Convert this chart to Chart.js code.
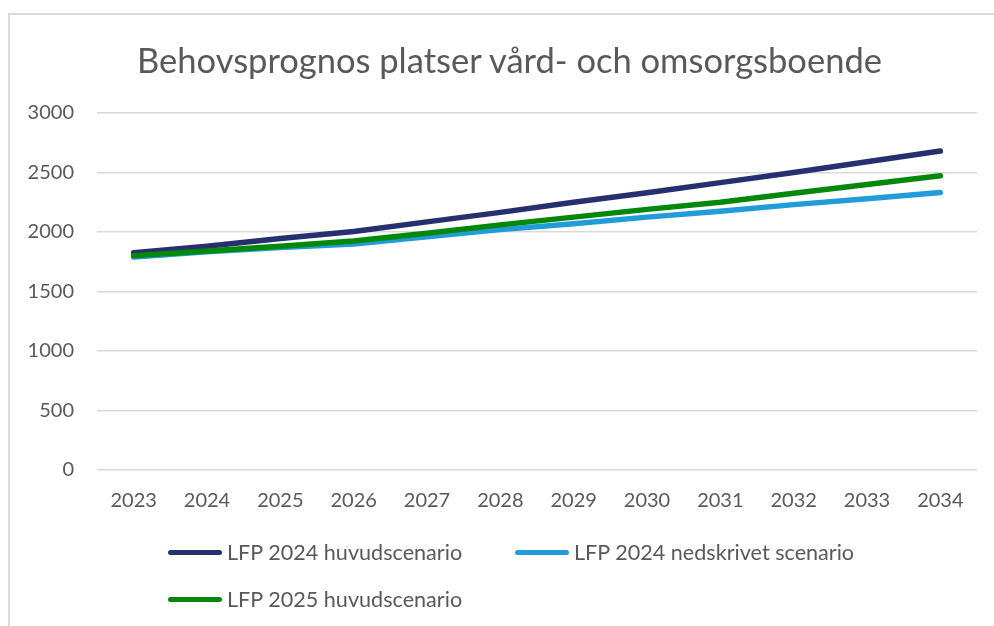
<!DOCTYPE html>
<html>
<head>
<meta charset="utf-8">
<script src="https://cdn.jsdelivr.net/npm/chart.js@4.4.1/dist/chart.umd.min.js"></script>
<style>
  html, body { margin: 0; padding: 0; background: #fff; overflow: hidden; }
  #wrap { position: relative; width: 994px; height: 626px; overflow: hidden; }
  #frame { position: absolute; left: 8px; top: 13px; width: 1100px; height: 800px; border: 2px solid #d9d9d9; box-sizing: border-box; }
  #c { position: absolute; left: 0; top: 0; }
  #title { position: absolute; left: 0; width: 1019px; top: 40px; height: 40px; line-height: 40px; text-align: center;
           font-family: Lato, "Open Sans", sans-serif; font-size: 34.5px; color: #595959; white-space: nowrap; }
  .leg { position: absolute; font-family: Lato, "Open Sans", sans-serif; font-size: 21.6px; color: #595959; white-space: nowrap; line-height: 24px; }
  .sw { position: absolute; height: 5px; border-radius: 3px; }
</style>
</head>
<body>
<div id="wrap">
  <div id="frame"></div>
  <canvas id="c" width="994" height="626"></canvas>
  <div id="title"></div>
  <div id="legend"></div>
</div>
<script>
const years = ["2023","2024","2025","2026","2027","2028","2029","2030","2031","2032","2033","2034"];
const huvud2024 = [1825, 1880, 1945, 2005, 2085, 2165, 2250, 2330, 2415, 2500, 2590, 2680];
const nedskrivet2024 = [1790, 1835, 1870, 1900, 1960, 2020, 2070, 2125, 2175, 2230, 2280, 2332];
const huvud2025 = [1800, 1840, 1880, 1925, 1990, 2060, 2125, 2190, 2250, 2325, 2400, 2472];
const seriesNames = ["LFP 2024 huvudscenario", "LFP 2024 nedskrivet scenario", "LFP 2025 huvudscenario"];
const seriesColors = ["#27306e", "#229cd8", "#00880a"];
const yTicks = [0, 500, 1000, 1500, 2000, 2500, 3000];
const titleText = "Behovsprognos platser vård- och omsorgsboende";

const FONT = 'Lato, "Open Sans", sans-serif';
document.getElementById('title').textContent = titleText;

new Chart(document.getElementById('c'), {
  type: 'line',
  data: {
    labels: years,
    datasets: [
      { label: seriesNames[0], data: huvud2024, borderColor: seriesColors[0], order: 3 },
      { label: seriesNames[1], data: nedskrivet2024, borderColor: seriesColors[1], order: 2 },
      { label: seriesNames[2], data: huvud2025, borderColor: seriesColors[2], order: 1 }
    ].map(d => Object.assign(d, {
      borderWidth: 5.5, pointRadius: 0, tension: 0, fill: false,
      borderCapStyle: 'round', borderJoinStyle: 'round', backgroundColor: d.borderColor
    }))
  },
  options: {
    responsive: false,
    animation: false,
    layout: { padding: { left: 0, right: 17, top: 113, bottom: 94 } },
    plugins: {
      legend: { display: false },
      tooltip: { enabled: false },
      title: { display: false }
    },
    scales: {
      x: {
        offset: true,
        grid: { display: false, drawTicks: false },
        border: { display: false },
        ticks: { color: '#595959', font: { family: FONT, size: 20, lineHeight: 1.2 }, padding: 19, maxRotation: 0, autoSkip: false }
      },
      y: {
        min: 0, max: 3000,
        afterFit: (s) => { s.width = 97; },
        afterBuildTicks: (s) => { s.ticks = yTicks.map(v => ({ value: v })); },
        grid: { color: '#d9d9d9', lineWidth: 1.5, drawTicks: false },
        border: { display: false },
        ticks: { color: '#595959', font: { family: FONT, size: 20, lineHeight: 1.2 }, padding: 23,
                 callback: (v) => String(v) }
      }
    }
  }
});

// HTML legend
const legPos = [ {x: 168, y: 552}, {x: 515, y: 552}, {x: 168, y: 599} ];
const legend = document.getElementById('legend');
seriesNames.forEach((name, i) => {
  const sw = document.createElement('div');
  sw.className = 'sw';
  sw.style.left = legPos[i].x + 'px';
  sw.style.top = (legPos[i].y - 2.5) + 'px';
  sw.style.width = '54px';
  sw.style.background = seriesColors[i];
  legend.appendChild(sw);
  const t = document.createElement('div');
  t.className = 'leg';
  t.textContent = name;
  t.style.left = (legPos[i].x + 59) + 'px';
  t.style.top = (legPos[i].y - 12) + 'px';
  legend.appendChild(t);
});
</script>
</body>
</html>
